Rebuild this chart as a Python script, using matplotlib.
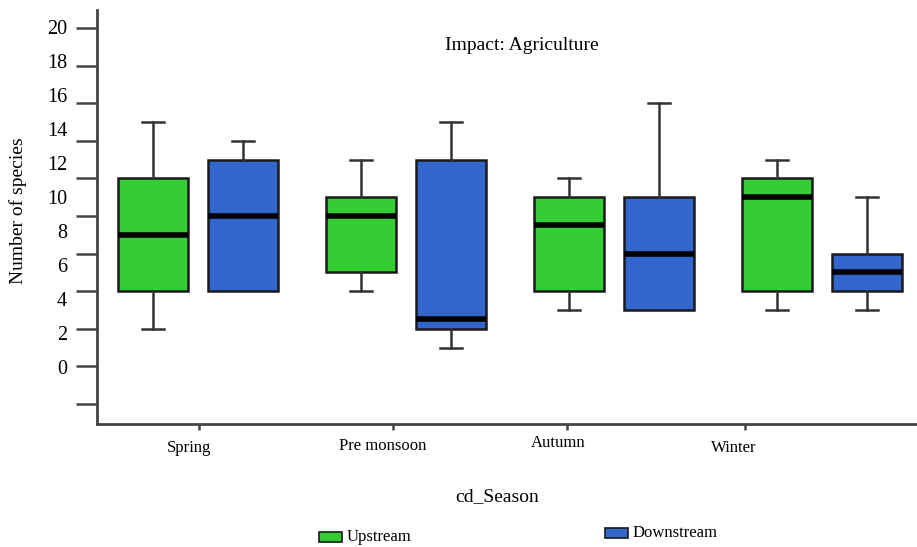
import matplotlib
matplotlib.use("Agg")
import matplotlib.pyplot as plt
from matplotlib.patches import Rectangle
import numpy as np

plt.rcParams["font.family"] = ["Liberation Serif", "DejaVu Serif"]

seasons = ["Spring", "Pre monsoon", "Autumn", "Winter"]
series = ["Upstream", "Downstream"]
colors = {"Upstream": "#33cc33", "Downstream": "#3366cc"}

# box stats (in tick units)
up_q1 = [6, 7, 6, 6]
up_med = [9, 10, 9.5, 11]
up_q3 = [12, 11, 11, 12]
up_lo = [4, 6, 5, 5]
up_hi = [15, 13, 12, 13]

dn_q1 = [6, 4, 5, 6]
dn_med = [10, 4.5, 8, 7]
dn_q3 = [13, 13, 11, 8]
dn_lo = [6, 3, 5, 5]
dn_hi = [14, 15, 16, 11]

yticks = [20, 18, 16, 14, 12, 10, 8, 6, 4, 2, 0]

W, H = 917, 547
fig = plt.figure(figsize=(W / 100, H / 100), dpi=100)
ax = fig.add_axes([97 / W, 1 - 424 / H, 820 / W, 414 / H])


def make_stats(q1, med, q3, lo, hi):
    out = []
    for a, m, b, l, h in zip(q1, med, q3, lo, hi):
        out.append(dict(q1=a, med=m, q3=b, whislo=l, whishi=h, fliers=[]))
    return out


pos = np.arange(len(seasons))
off = 0.216
bw = 0.337
for name, st, sgn in [("Upstream", make_stats(up_q1, up_med, up_q3, up_lo, up_hi), -1),
                      ("Downstream", make_stats(dn_q1, dn_med, dn_q3, dn_lo, dn_hi), 1)]:
    res = ax.bxp(st, positions=pos + sgn * off, widths=bw, showfliers=False,
                 patch_artist=True, capwidths=0.106,
                 boxprops=dict(facecolor=colors[name], edgecolor="#1a1a1a", linewidth=1.8),
                 medianprops=dict(color="black", linewidth=4, solid_capstyle="butt"),
                 whiskerprops=dict(color="#333333", linewidth=1.8),
                 capprops=dict(color="#333333", linewidth=1.8))
    # no whisker/cap where the whisker has zero length
    for k, s in enumerate(st):
        if s["whislo"] == s["q1"]:
            res["caps"][2 * k].set_visible(False)
            res["whiskers"][2 * k].set_visible(False)

ax.set_xlim(-0.486, 3.457)
ax.set_ylim(-1.06, 20.96)

for s in ["top", "right"]:
    ax.spines[s].set_visible(False)
for s in ["left", "bottom"]:
    ax.spines[s].set_color("#444444")
    ax.spines[s].set_linewidth(2)

# tick marks (labels drawn separately, they drift in the original)
ax.set_yticks(yticks)
ax.set_yticklabels([])
ax.tick_params(axis="y", length=15, width=1.8, color="#444444", direction="out")
for i, v in enumerate(yticks):
    py = 29 + 34 * i
    ax.text(-30 / 820, (404 - py) / 18.8, str(v), transform=ax.get_yaxis_transform(),
            ha="right", va="center", fontsize=14.5)

xt_px = [199, 393, 567, 745]
ax.set_xticks([(p - 198) / 208 for p in xt_px])
ax.set_xticklabels([])
ax.tick_params(axis="x", length=4, width=1.8, color="#444444", direction="out")
xl_px = [(189, 448), (383, 446), (558, 443), (734, 448)]
for lab, (px, py) in zip(seasons, xl_px):
    fig.text(px / W, 1 - py / H, lab, ha="center", va="center", fontsize=12)

fig.text(18 / W, 1 - 211 / H, "Number of species", rotation=90,
         ha="center", va="center", fontsize=14)
fig.text(522 / W, 1 - 45 / H, "Impact: Agriculture", ha="center", va="center", fontsize=14)
fig.text(497 / W, 1 - 497 / H, "cd_Season", ha="center", va="center", fontsize=14)

# legend
leg = [("Upstream", 319, 537), ("Downstream", 605, 533)]
for name, px, py in leg:
    fig.patches.append(Rectangle((px / W, 1 - (py + 5) / H), 23 / W, 10 / H,
                                 transform=fig.transFigure, facecolor=colors[name],
                                 edgecolor="#1a1a1a", linewidth=1.2))
    fig.text((px + 28) / W, 1 - py / H, name, ha="left", va="center", fontsize=12)

fig.savefig("out.png", dpi=100)
